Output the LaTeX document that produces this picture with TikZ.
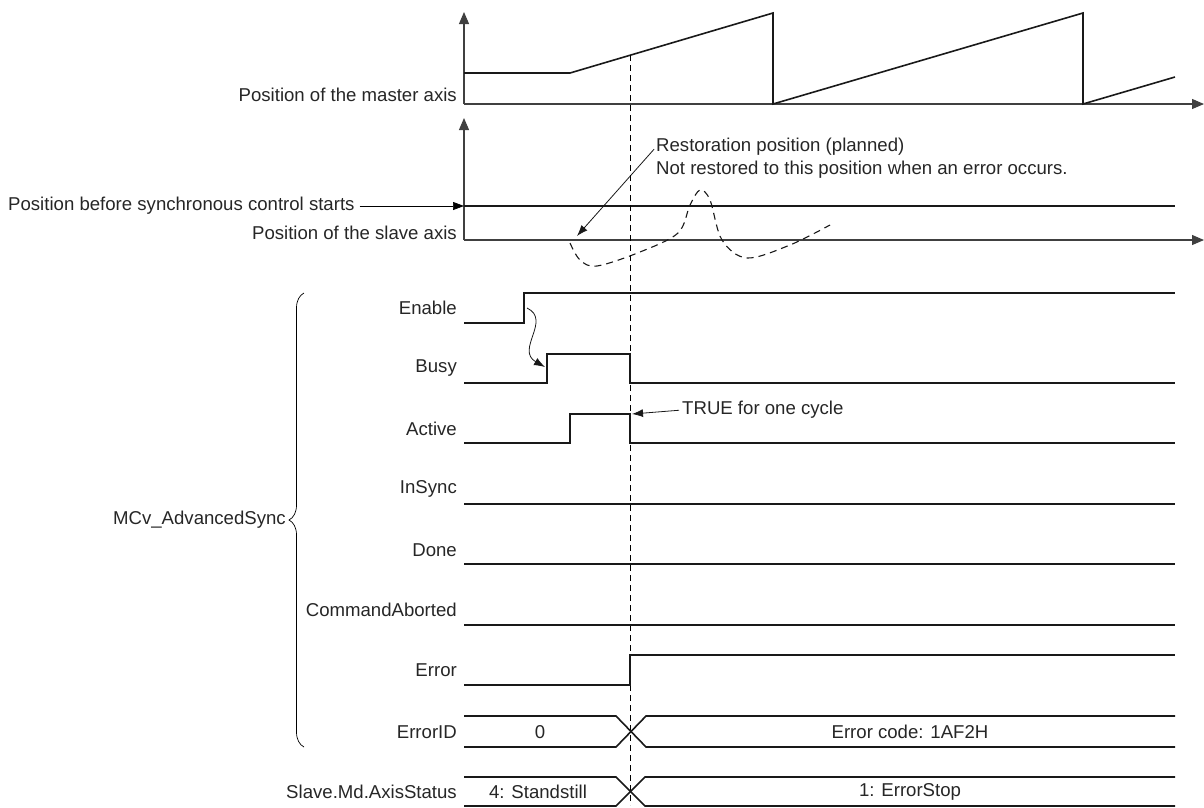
\documentclass[tikz,border=0pt]{standalone}
\usepackage{fontspec}
\setmainfont{Liberation Sans}
\usetikzlibrary{positioning,arrows.meta,decorations.pathreplacing}

\begin{document}
\begin{tikzpicture}[x=1pt, y=-1pt, every node/.style={font=\fontsize{18.6}{22}\selectfont, text=black!85}]
  \tikzset{
    lbl/.style={anchor=east, inner sep=0pt},
    note/.style={anchor=west, inner sep=0pt},
    sig/.style={line width=1.6pt, black!90},
    axis/.style={line width=1.1pt, black!75},
    axarr/.style={axis, -{Triangle[length=12pt, width=10pt]}},
    arr/.style={-{Latex[length=11pt, width=8pt]}, line width=0.8pt, black!90}
  }
  \useasboundingbox (0,0) rectangle (1204,807);

  % master axis
  \draw[axarr] (464,104) -- (464,12);
  \draw[axarr] (464,104) -- (1204,104);
  \draw[sig] (464,73) -- (570,73) -- (773,13) -- (773,104) -- (1083,13) -- (1083,104) -- (1175,77);
  \node[lbl] (master) at (457,95) {Position of the master axis};

  % slave axis
  \draw[axarr] (464,240) -- (464,118);
  \draw[axarr] (464,240) -- (1204,240);
  \coordinate (slvstart) at (464,206);
  \draw[sig] (slvstart) -- (1175,206);
  \node[note] (before) at (8,206) {Position before synchronous control starts};
  \draw[line width=0.7pt, -{Triangle[length=11pt, width=8pt]}, shorten <=5pt] (before.east) -- (slvstart);
  \node[lbl] (slave) at (457,233) {Position of the slave axis};
  \draw[sig, line width=1.1pt, dash pattern=on 7pt off 5pt] plot[smooth, tension=0.55] coordinates
    {(570,243) (580,260) (597,266) (640,252) (678,233) (690,205) (700,190) (710,200) (722,240) (747,258) (790,245) (830,225)};

  \node[note] (rest) at (656,147) {Restoration position (planned)};
  \node[note] (rest2) at (656,170) {Not restored to this position when an error occurs.};
  \coordinate (restpt) at (577,236);
  \draw[arr, shorten <=3pt] (rest.west) -- (restpt);

  % cycle marker
  \draw[line width=0.9pt, dash pattern=on 6pt off 4pt] (630,55) -- (630,805);

  % signals
  \node[lbl] (enable) at (457,308) {Enable};
  \node[lbl] (busy) at (457,368) {Busy};
  \node[lbl] (active) at (457,429) {Active};
  \node[lbl] (insync) at (457,489) {InSync};
  \node[lbl] (done) at (457,550) {Done};
  \node[lbl] (aborted) at (457,610) {CommandAborted};
  \node[lbl] (error) at (457,670) {Error};
  \node[lbl] (errid) at (457,732) {ErrorID};
  \node[lbl] (status) at (457,792) {Slave.Md.AxisStatus};

  \draw[sig] (464,323) -- (524,323) -- (524,293) -- (1175,293);
  \draw[sig] (464,383) -- (547,383) -- (547,354) -- (630,354) -- (630,383) -- (1175,383);
  \draw[sig] (464,443) -- (570,443) -- (570,414) -- (630,414) -- (630,443) -- (1175,443);
  \draw[sig] (464,504) -- (1175,504);
  \draw[sig] (464,564) -- (1175,564);
  \draw[sig] (464,625) -- (1175,625);
  \draw[sig] (464,685) -- (630,685) -- (630,655) -- (1175,655);

  \draw[sig] (464,716) -- (616,716) -- (646,747) -- (1175,747);
  \draw[sig] (464,747) -- (616,747) -- (646,716) -- (1175,716);
  \node (id0) at (540,732) {0};
  \node (iderr) at (910,732) {Error code: 1AF2H};

  \draw[sig] (464,777) -- (616,777) -- (645,806) -- (1175,806);
  \draw[sig] (464,806) -- (616,806) -- (645,777) -- (1175,777);
  \node (st4) at (538,792) {4: Standstill};
  \node (sterr) at (910,792) {1: ErrorStop};

  \coordinate (enrise) at (527,308);
  \coordinate (burise) at (545,367);
  \draw[arr] (enrise) .. controls (552,320) and (515,350) .. (burise);

  \node[note] (once) at (682,410) {TRUE for one cycle};
  \coordinate (actfall) at (632,414);
  \draw[arr, shorten <=3pt] (once.west) -- (actfall);

  % function block
  \draw[decorate, decoration={brace, amplitude=15pt}, line width=0.7pt] (304,747) -- (304,293);
  \node[lbl] (fb) at (286,520) {MCv\_AdvancedSync};
\end{tikzpicture}
\end{document}
